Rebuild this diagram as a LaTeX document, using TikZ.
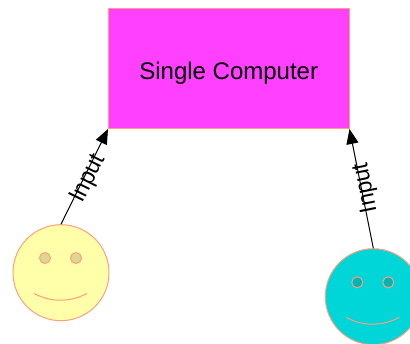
\documentclass[tikz,border=0pt]{standalone}
\usepackage{fontspec}
\setmainfont{Liberation Sans}
\newfontfamily\inputfont[FakeStretch=0.94]{Liberation Sans}
\usepackage{tikz}
\usetikzlibrary{arrows.meta}
\definecolor{edgecol}{HTML}{FFA07A}
\definecolor{boxcol}{HTML}{FF40FF}
\definecolor{yellowcol}{HTML}{FFFFAA}
\definecolor{yelloweye}{HTML}{DDD890}
\definecolor{cyancol}{HTML}{00D5D8}
\definecolor{cyaneye}{HTML}{00B5B8}

\begin{document}
\begin{tikzpicture}[x=1pt,y=-1pt,
    computer/.style={draw=edgecol,fill=boxcol,line width=1pt,minimum width=240.5pt,minimum height=120pt,inner sep=0pt,text height=22pt,text depth=0pt,font=\fontsize{24}{28}\selectfont},
    face/.style={circle,draw=edgecol,line width=1pt,minimum size=96pt,inner sep=0pt},
    eye/.style={circle,draw=edgecol,line width=1pt,minimum size=11pt,inner sep=0pt},
    smile/.style={draw=edgecol,line width=1pt},
    input/.style={draw,line width=1pt,-{Triangle[length=15pt,width=12pt]}},
    inputlabel/.style={sloped,allow upside down,inner sep=0pt,text height=21pt,text depth=0pt,font=\inputfont\fontsize{24}{28}\selectfont}]
    \useasboundingbox (0,0) rectangle (410,344);
    \node[computer] (computer) at (228.75,68.5) {Single Computer};
    \node[face,fill=yellowcol] (faceone) at (61,272.7) {};
    \node[eye,fill=yelloweye] (eyeoneleft) at (45,258) {};
    \node[eye,fill=yelloweye] (eyeoneright) at (76,258) {};
    \coordinate (smileonestart) at (34,293.3);
    \coordinate (smileoneend) at (87,293.3);
    \draw[smile] (smileonestart) .. controls (50,302.5) and (71,302.5) .. (smileoneend);
    \node[face,fill=cyancol] (facetwo) at (373.3,296.7) {};
    \node[eye,fill=cyaneye] (eyetwoleft) at (357.3,282.3) {};
    \node[eye,fill=cyaneye] (eyetworight) at (388.3,282.3) {};
    \coordinate (smiletwostart) at (346.3,317.3);
    \coordinate (smiletwoend) at (399.3,317.3);
    \draw[smile] (smiletwostart) .. controls (362,326.5) and (383,326.5) .. (smiletwoend);
    \draw[input] (faceone.north) -- node[inputlabel] {Input} (computer.south west);
    \draw[input] (facetwo.north) -- node[inputlabel] {Input} (computer.south east);
\end{tikzpicture}
\end{document}
